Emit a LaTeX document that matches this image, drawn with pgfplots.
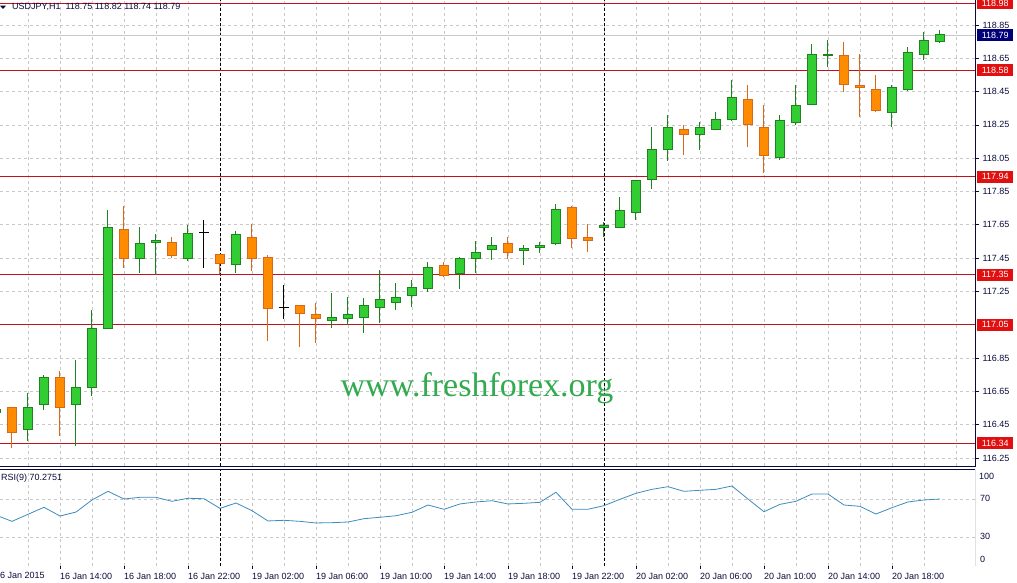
\documentclass[border=0pt]{standalone}
\usepackage{fontspec}
\setmainfont{Liberation Sans}
\newfontfamily\wmfont{Liberation Serif}
\usepackage{pgfplots}
\usepackage{pgfplotstable}
\pgfplotsset{compat=1.18}
\definecolor{bullfill}{RGB}{50,205,50}
\definecolor{bulldraw}{RGB}{30,130,30}
\definecolor{bearfill}{RGB}{255,140,0}
\definecolor{beardraw}{RGB}{215,105,25}
\definecolor{lvl}{RGB}{190,20,30}
\definecolor{lvlbox}{RGB}{225,15,15}
\definecolor{frame}{RGB}{10,10,60}
\definecolor{gridc}{RGB}{200,200,200}
\definecolor{rsic}{RGB}{60,140,190}
\definecolor{wm}{RGB}{50,170,80}
\definecolor{bidc}{RGB}{0,0,120}
\newcommand{\tf}{\fontsize{9}{10.8}\selectfont}
\newcommand{\pricebox}[3]{\node[fill=#3, text=white, font=\tf, inner sep=0pt,
  minimum width=36pt, minimum height=12pt, anchor=west] at (axis cs:60.19,#1) [xshift=2pt] {#2};}

% hourly candles: index, low, body low, body high, high
\pgfplotstableread{
i lo bl bh hi
-1 116.50 116.52 116.54 116.56
1 116.35 116.42 116.55 116.64
2 116.54 116.57 116.73 116.75
4 116.32 116.57 116.67 116.84
5 116.62 116.67 117.03 117.14
6 117.03 117.03 117.635 117.74
8 117.36 117.45 117.54 117.635
9 117.35 117.545 117.557 117.595
11 117.43 117.445 117.595 117.65
14 117.36 117.41 117.59 117.61
20 117.03 117.075 117.095 117.24
21 117.05 117.09 117.11 117.215
22 117.00 117.095 117.165 117.21
23 117.06 117.155 117.20 117.38
24 117.14 117.185 117.215 117.30
25 117.155 117.225 117.275 117.32
26 117.245 117.27 117.395 117.425
28 117.265 117.355 117.45 117.455
29 117.36 117.45 117.485 117.55
30 117.44 117.50 117.525 117.575
32 117.407 117.497 117.509 117.527
33 117.48 117.515 117.527 117.547
34 117.527 117.54 117.743 117.775
37 117.575 117.635 117.647 117.667
38 117.63 117.635 117.737 117.815
39 117.68 117.725 117.917 117.92
40 117.865 117.925 118.10 118.24
41 118.035 118.10 118.235 118.31
43 118.10 118.195 118.235 118.265
44 118.22 118.225 118.285 118.325
45 118.275 118.28 118.415 118.52
48 118.037 118.055 118.278 118.31
49 118.248 118.266 118.368 118.487
50 118.368 118.374 118.674 118.736
51 118.596 118.668 118.674 118.758
55 118.236 118.326 118.476 118.488
56 118.455 118.464 118.686 118.716
57 118.638 118.674 118.758 118.806
58 118.74 118.75 118.79 118.82
}\bulltab
\pgfplotstableread{
i lo bl bh hi
0 116.31 116.40 116.55 116.55
3 116.38 116.55 116.73 116.77
7 117.39 117.45 117.62 117.76
10 117.45 117.465 117.545 117.575
13 117.355 117.42 117.47 117.475
15 117.375 117.445 117.575 117.655
16 116.95 117.15 117.455 117.47
18 116.915 117.12 117.165 117.17
19 116.94 117.09 117.11 117.18
27 117.335 117.345 117.405 117.425
31 117.445 117.485 117.54 117.575
35 117.51 117.57 117.755 117.76
36 117.485 117.557 117.575 117.655
42 118.07 118.19 118.225 118.25
46 118.115 118.25 118.405 118.49
47 117.963 118.067 118.235 118.37
52 118.446 118.494 118.668 118.746
53 118.296 118.476 118.488 118.674
54 118.326 118.338 118.464 118.548
}\beartab
\pgfplotstableread{
i lo bl bh hi
12 117.39 117.605 117.605 117.68
17 117.085 117.155 117.155 117.29
}\dojitab

\pgfplotsset{
  wick/.style={draw=none, mark=none, error bars/.cd, y dir=plus, y explicit,
    error mark=none, error bar style={draw=#1, line width=1pt}},
  bodyedge/.style={draw=none, mark=none, error bars/.cd, y dir=plus, y explicit,
    error mark=none, error bar style={draw=#1, line width=10pt}},
  bodyfill/.style={draw=none, mark=none, error bars/.cd, y dir=plus, y explicit,
    error mark=none, error bar style={draw=#1, line width=8pt}},
}
\newcommand{\candles}[3]{%
  \addplot[wick=#2] table[x=i, y=lo, y error plus expr={\thisrow{hi}-\thisrow{lo}}] {#1};
  \addplot[bodyedge=#2] table[x=i, y expr={\thisrow{bl}-0.003}, y error plus expr={\thisrow{bh}-\thisrow{bl}+0.006}] {#1};
  \addplot[bodyfill=#3] table[x=i, y expr={\thisrow{bl}+0.003}, y error plus expr={max(\thisrow{bh}-\thisrow{bl}-0.006,0)}] {#1};
}

\begin{document}
\begin{tikzpicture}[x=1pt,y=1pt]
\useasboundingbox (0pt,0pt) rectangle (1017pt,583pt);

\begin{axis}[
  at={(0pt,117pt)}, anchor=south west, scale only axis,
  width=975pt, height=466pt,
  xmin=-0.75, xmax=60.19, ymin=116.2014, ymax=119.0002,
  axis line style={draw=none},
  xtick={1,3,...,59}, xticklabels={}, xtick style={draw=none},
  ytick={116.25,116.45,116.65,116.85,117.25,117.45,117.65,117.85,118.05,118.25,118.45,118.65,118.85},
  ytick pos=right, yticklabel pos=right, tick align=outside,
  major tick length=4pt, ytick style={frame, line width=0.6pt},
  yticklabel style={font=\tf, text=frame,
    /pgf/number format/.cd, fixed, fixed zerofill, precision=2, assume math mode=true},
  grid=major, major grid style={gridc, dash pattern=on 3pt off 3pt, line width=0.6pt},
  clip=false]
% period separators
\addplot[black, line width=0.7pt, dash pattern=on 2.5pt off 2.5pt] coordinates {(13,116.2014)(13,119.0002)};
\addplot[black, line width=0.7pt, dash pattern=on 2.5pt off 2.5pt] coordinates {(37,116.2014)(37,119.0002)};
% bid line
\addplot[gridc, line width=0.8pt] coordinates {(-0.75,118.79)(60.19,118.79)};
% levels
\addplot[lvl, line width=0.8pt] coordinates {(-0.75,118.98)(60.19,118.98)};
\addplot[lvl, line width=0.8pt] coordinates {(-0.75,118.58)(60.19,118.58)};
\addplot[lvl, line width=0.8pt] coordinates {(-0.75,117.94)(60.19,117.94)};
\addplot[lvl, line width=0.8pt] coordinates {(-0.75,117.35)(60.19,117.35)};
\addplot[lvl, line width=0.8pt] coordinates {(-0.75,117.05)(60.19,117.05)};
\addplot[lvl, line width=0.8pt] coordinates {(-0.75,116.34)(60.19,116.34)};
% candles
\candles{\bulltab}{bulldraw}{bullfill}
\candles{\beartab}{beardraw}{bearfill}
\candles{\dojitab}{black}{black}
% frame
\draw[frame, line width=0.8pt] (rel axis cs:0,0) -- (rel axis cs:1,0) -- (rel axis cs:1,1);
% price labels
\pricebox{118.98}{118.98}{lvlbox}
\pricebox{118.79}{118.79}{bidc}
\pricebox{118.58}{118.58}{lvlbox}
\pricebox{117.94}{117.94}{lvlbox}
\pricebox{117.35}{117.35}{lvlbox}
\pricebox{117.05}{117.05}{lvlbox}
\pricebox{116.34}{116.34}{lvlbox}
\end{axis}

\begin{axis}[
  at={(0pt,17pt)}, anchor=south west, scale only axis,
  width=975pt, height=97pt,
  xmin=-0.75, xmax=60.19, ymin=-0.2, ymax=101.9,
  axis line style={draw=none},
  xtick={3,7,...,55},
  xticklabels={16 Jan 14:00, 16 Jan 18:00, 16 Jan 22:00, 19 Jan 02:00, 19 Jan 06:00,
    19 Jan 10:00, 19 Jan 14:00, 19 Jan 18:00, 19 Jan 22:00, 20 Jan 02:00,
    20 Jan 06:00, 20 Jan 10:00, 20 Jan 14:00, 20 Jan 18:00},
  minor xtick={1,5,...,59},
  xtick pos=bottom, tick align=outside,
  major tick length=3pt, minor tick length=0pt,
  xtick style={frame, line width=0.6pt},
  xticklabel style={font=\tf, text=frame, anchor=north west, inner sep=0pt, yshift=-4pt},
  ytick={30,70}, yticklabels={}, ytick style={draw=none},
  grid=both, major grid style={gridc, dash pattern=on 3pt off 3pt, line width=0.6pt},
  minor grid style={gridc, dash pattern=on 3pt off 3pt, line width=0.6pt},
  clip=true]
\addplot[black, line width=0.7pt, dash pattern=on 2.5pt off 2.5pt] coordinates {(13,-0.2)(13,101.9)};
\addplot[black, line width=0.7pt, dash pattern=on 2.5pt off 2.5pt] coordinates {(37,-0.2)(37,101.9)};
\addplot[rsic, line width=0.8pt] coordinates {
(-1,53.3)(0,46.8)(1,54.2)(2,61.6)(3,52.4)(4,56.6)(5,69.3)(6,78.4)(7,70.3)(8,72.1)
(9,72.1)(10,67.9)(11,71.1)(12,70.6)(13,60.5)(14,66.1)(15,58.0)(16,47.2)(17,47.9)(18,46.8)
(19,45.1)(20,45.4)(21,46.1)(22,49.6)(23,51.1)(24,52.7)(25,56.3)(26,64.0)(27,59.5)(28,65.1)
(29,67.2)(30,68.5)(31,65.1)(32,65.8)(33,66.8)(34,77.4)(35,59.5)(36,59.5)(37,63.3)(38,70.0)
(39,76.3)(40,80.5)(41,83.3)(42,78.4)(43,79.5)(44,80.5)(45,84.0)(46,70.3)(47,56.9)(48,64.7)
(49,67.9)(50,75.6)(51,75.6)(52,64.0)(53,62.6)(54,54.5)(55,61.2)(56,67.2)(57,69.3)(58,70.3)
};
\draw[frame, line width=0.8pt] (rel axis cs:0,1) -- (rel axis cs:1,1) -- (rel axis cs:1,0) -- (rel axis cs:0,0);
\end{axis}

% texts
\fill[frame] (0pt,577.3pt) -- (6pt,577.3pt) -- (3pt,574pt) -- cycle;
\node[anchor=west, font=\tf, text=frame, inner sep=0pt] at (12pt,576pt) {USDJPY,H1\ \ 118.75 118.82 118.74 118.79};
\node[anchor=west, font=\tf, text=frame, inner sep=0pt] at (1pt,105pt) {RSI(9) 70.2751};
\node[anchor=west, font=\tf, text=frame, inner sep=0pt] at (979pt,107pt) {100};
\node[anchor=west, font=\tf, text=frame, inner sep=0pt] at (980pt,84.3pt) {70};
\node[anchor=west, font=\tf, text=frame, inner sep=0pt] at (980pt,46.7pt) {30};
\node[anchor=west, font=\tf, text=frame, inner sep=0pt] at (980pt,24pt) {0};
\node[anchor=north west, font=\tf, text=frame, inner sep=0pt] at (-5pt,10.5pt) {16 Jan 2015};
\node[anchor=base, font=\wmfont\fontsize{34}{38}\selectfont, text=wm, inner sep=0pt] at (477pt,186pt) {www.freshforex.org};
\end{tikzpicture}
\end{document}
